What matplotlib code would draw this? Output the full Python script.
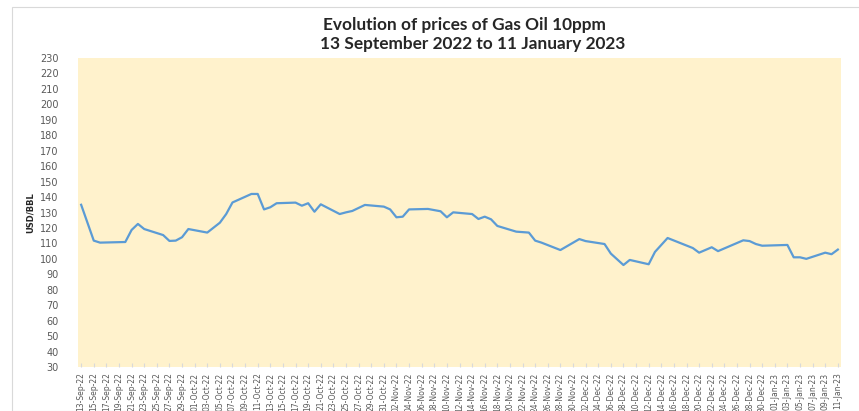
import matplotlib
matplotlib.use("Agg")
import matplotlib.pyplot as plt
import matplotlib.dates as mdates
from matplotlib.patches import Rectangle
import pandas as pd

# data
dates = [
    "2022-09-13", "2022-09-15", "2022-09-16", "2022-09-20", "2022-09-21",
    "2022-09-22", "2022-09-23", "2022-09-26", "2022-09-27", "2022-09-28",
    "2022-09-29", "2022-09-30", "2022-10-03", "2022-10-05", "2022-10-06",
    "2022-10-07", "2022-10-10", "2022-10-11", "2022-10-12", "2022-10-13",
    "2022-10-14", "2022-10-17", "2022-10-18", "2022-10-19", "2022-10-20",
    "2022-10-21", "2022-10-24", "2022-10-25", "2022-10-26", "2022-10-28",
    "2022-10-31", "2022-11-01", "2022-11-02", "2022-11-03", "2022-11-04",
    "2022-11-07", "2022-11-09", "2022-11-10", "2022-11-11", "2022-11-14",
    "2022-11-15", "2022-11-16", "2022-11-17", "2022-11-18", "2022-11-21",
    "2022-11-22", "2022-11-23", "2022-11-24", "2022-11-25", "2022-11-28",
    "2022-12-01", "2022-12-02", "2022-12-05", "2022-12-06", "2022-12-08",
    "2022-12-09", "2022-12-12", "2022-12-13", "2022-12-15", "2022-12-19",
    "2022-12-20", "2022-12-22", "2022-12-23", "2022-12-27", "2022-12-28",
    "2022-12-29", "2022-12-30", "2023-01-03", "2023-01-04", "2023-01-05",
    "2023-01-06", "2023-01-09", "2023-01-10", "2023-01-11",
]
prices = [
    135.0, 111.8, 110.5, 110.9, 118.7,
    122.6, 119.3, 115.4, 111.6, 111.8,
    114.0, 119.3, 117.0, 123.4, 129.0,
    136.5, 142.0, 142.0, 132.0, 133.4,
    136.0, 136.4, 134.4, 136.0, 130.5,
    135.3, 129.0, 130.1, 131.0, 134.9,
    133.8, 132.0, 126.9, 127.3, 132.0,
    132.3, 130.8, 126.9, 130.1, 129.0,
    125.8, 127.3, 125.6, 121.3, 117.6,
    117.3, 117.0, 111.8, 110.5, 105.7,
    112.8, 111.5, 109.6, 103.4, 96.0,
    99.3, 96.5, 104.5, 113.5, 107.0,
    104.0, 107.5, 105.0, 112.0, 111.5,
    109.6, 108.5, 109.0, 101.0, 101.0,
    100.0, 104.0, 103.0, 106.0,
]
title_lines = ["Evolution of prices of Gas Oil 10ppm",
               "13 September 2022 to 11 January 2023"]
y_label = "USD/BBL"

x = pd.to_datetime(dates)
start = pd.Timestamp("2022-09-13")
end = pd.Timestamp("2023-01-11")
tick_days = pd.date_range(start, end, freq="2D")

fig = plt.figure(figsize=(8.59, 4.11), dpi=100)
W, H = 859, 411

# chart frame
fig.patches.append(Rectangle((12 / W, 0), 1.0, 1 - 7 / H, transform=fig.transFigure,
                             fill=False, edgecolor="#d9d9d9", linewidth=0.8))

ax = fig.add_axes([78 / W, 1 - 367 / H, (841 - 78) / W, (367 - 58) / H])
ax.set_facecolor("#fff2cc")
for s in ax.spines.values():
    s.set_visible(False)

ax.plot(x, prices, color="#5b9bd5", linewidth=1.6)

ax.set_ylim(30, 230)
ax.set_yticks(range(30, 231, 10))
ax.tick_params(axis="y", length=0, labelsize=7, labelcolor="#595959", pad=14)

ax.set_xlim(start - pd.Timedelta(hours=12), end + pd.Timedelta(hours=12))
ax.set_xticks(tick_days)
ax.xaxis.set_major_formatter(mdates.DateFormatter("%d-%b-%y"))
ax.tick_params(axis="x", direction="in", length=3, color="#d9d9d9",
               labelsize=5.5, labelcolor="#595959", labelrotation=90, pad=4)

fig.text(30 / W, 1 - 213 / H, y_label, rotation=90, ha="center", va="center",
         fontsize=6, fontweight="bold", color="#262626")
fig.text(464 / W, 1 - 25 / H, title_lines[0], ha="center", va="center",
         fontsize=12.4, fontweight="bold", color="#262626", family="Lato")
fig.text(473 / W, 1 - 44 / H, title_lines[1], ha="center", va="center",
         fontsize=12.4, fontweight="bold", color="#262626", family="Lato")

fig.savefig("out.png", dpi=100)
